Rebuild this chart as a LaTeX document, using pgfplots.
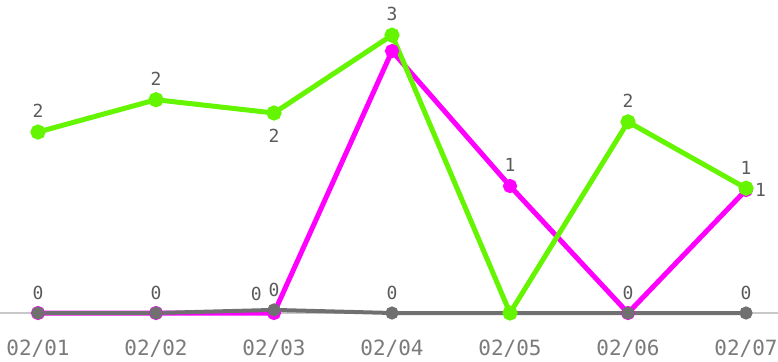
\documentclass[border=0pt]{standalone}
\usepackage{fontspec}
\setmainfont{DejaVu Sans}
\newfontfamily\monofont{DejaVu Sans Mono}
\usepackage{pgfplots}
\pgfplotsset{compat=1.18}
\definecolor{mygreen}{HTML}{66F500}
\definecolor{mymag}{HTML}{FF00FF}
\definecolor{mygray}{HTML}{707070}
\definecolor{tickc}{HTML}{7A7A7A}
\definecolor{gridc}{HTML}{C8C8C8}
\definecolor{labc}{HTML}{5A5A5A}

\pgfplotsset{lab/.style 2 args={
  draw=none, mark=none,
  point meta=explicit symbolic,
  nodes near coords,
  nodes near coords style={anchor=#1, inner sep=#2, font=\monofont\fontsize{18bp}{20bp}\selectfont, text=labc},
}}

\begin{document}
\begin{tikzpicture}
\begin{axis}[
  at={(0,0)}, anchor=north west,
  scale only axis,
  width=778bp, height=313bp,
  xmin=-0.322, xmax=6.271,
  ymin=0, ymax=3.537,
  clip=false,
  axis x line*=bottom,
  axis y line=none,
  x axis line style={-, draw=gridc, line width=1.5bp},
  xtick={0,1,2,3,4,5,6},
  xticklabels={02/01,02/02,02/03,02/04,02/05,02/06,02/07},
  xticklabel style={font=\monofont\fontsize{21bp}{24bp}\selectfont, text=tickc, inner sep=0pt, yshift=-27bp},
  major tick length=0pt,
  ytick={2},
  ymajorgrids,
  grid style={draw=gridc, line width=1bp},
]
% magenta series
\addplot[mymag, line width=5bp, mark=*, mark size=4.5bp, mark options={fill=mymag, draw=mymag}]
  coordinates {(0,0) (1,0) (2,0) (3,2.96) (4,1.435) (5,0) (6,1.39)};
% gray series
\addplot[mygray, line width=4bp, mark=*, mark size=4.5bp, mark options={fill=mygray, draw=mygray}]
  coordinates {(0,0) (1,0) (2,0.035) (3,0) (4,0) (5,0) (6,0)};
% green series
\addplot[mygreen, line width=5bp, mark=*, mark size=5bp, mark options={fill=mygreen, draw=mygreen}]
  coordinates {(0,2.045) (1,2.41) (2,2.26) (3,3.14) (4,0) (5,2.16) (6,1.41)};
% value labels
\addplot[lab={south}{14bp}] coordinates {(0,2.045)[2] (1,2.41)[2] (3,3.14)[3] (5,2.16)[2] (6,1.41)[1] (4,1.435)[1]};
\addplot[lab={south}{13bp}] coordinates {(0,0)[0] (1,0)[0] (2,0.035)[0] (3,0)[0] (5,0)[0] (6,0)[0]};
\addplot[lab={north}{16bp}] coordinates {(2,2.26)[2]};
\addplot[lab={west}{9bp}] coordinates {(6,1.39)[1]};
\addplot[lab={south east}{12bp}] coordinates {(2,0)[0]};
\end{axis}
\pgfresetboundingbox
\path[use as bounding box] (0,0) rectangle (778bp,-362bp);
\end{tikzpicture}
\end{document}
